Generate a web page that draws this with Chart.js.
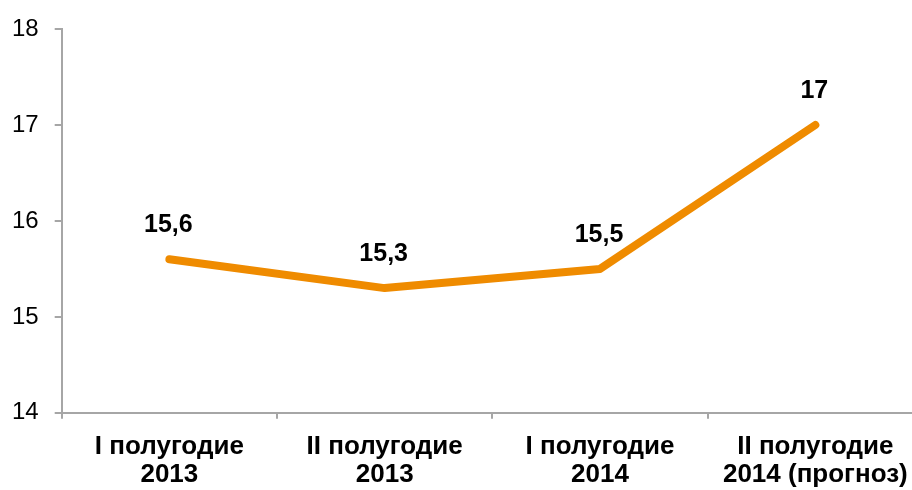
<!DOCTYPE html>
<html>
<head>
<meta charset="utf-8">
<script src="https://cdn.jsdelivr.net/npm/chart.js@4"></script>
<style>
  html, body { margin: 0; padding: 0; background: #fff; overflow: hidden; }
  #wrap { width: 923px; height: 490px; }
</style>
</head>
<body>
<div id="wrap"><canvas id="chart" width="923" height="490"></canvas></div>
<script>
// данные графика
const categories = [
  ['I полугодие', '2013'],
  ['II полугодие', '2013'],
  ['I полугодие', '2014'],
  ['II полугодие', '2014 (прогноз)']
];
const values = [15.6, 15.3, 15.5, 17];
const yTicks = [14, 15, 16, 17, 18];

const lineColor = '#EF8B00';
const axisColor = '#A6A6A6';
const fontFamily = '"Liberation Sans", Arial, sans-serif';

// подписи значений над точками
const valueLabels = {
  id: 'valueLabels',
  afterDatasetsDraw(chart) {
    const ctx = chart.ctx;
    const meta = chart.getDatasetMeta(0);
    ctx.save();
    ctx.font = 'bold 25px ' + fontFamily;
    ctx.fillStyle = '#000';
    ctx.textAlign = 'center';
    ctx.textBaseline = 'middle';
    meta.data.forEach((pt, i) => {
      const txt = String(values[i]).replace('.', ',');
      ctx.fillText(txt, pt.x - 1, pt.y - 34);
    });
    ctx.restore();
  }
};

new Chart(document.getElementById('chart'), {
  type: 'line',
  data: {
    labels: categories,
    datasets: [{
      data: values,
      borderColor: lineColor,
      borderWidth: 8,
      borderCapStyle: 'round',
      borderJoinStyle: 'round',
      pointRadius: 0,
      tension: 0,
      fill: false
    }]
  },
  options: {
    responsive: false,
    devicePixelRatio: 1,
    animation: false,
    layout: { padding: { left: 12, right: 0, top: 29, bottom: -13 } },
    plugins: { legend: { display: false }, tooltip: { enabled: false } },
    scales: {
      x: {
        offset: true,
        border: { color: axisColor, width: 2 },
        grid: { offset: true, drawOnChartArea: false, color: axisColor, lineWidth: 2, tickLength: 6 },
        ticks: {
          color: '#000',
          padding: 14,
          maxRotation: 0,
          autoSkip: false,
          font: { family: fontFamily, size: 26, weight: 'bold', lineHeight: 1.08 }
        }
      },
      y: {
        min: 14,
        max: 18,
        afterBuildTicks(axis) { axis.ticks = yTicks.map(v => ({ value: v })); },
        border: { color: axisColor, width: 2 },
        grid: { drawOnChartArea: false, color: axisColor, lineWidth: 2, tickLength: 7 },
        ticks: {
          color: '#000',
          padding: 8,
          crossAlign: 'far',
          font: { family: fontFamily, size: 24 }
        }
      }
    }
  },
  plugins: [valueLabels]
});
</script>
</body>
</html>
